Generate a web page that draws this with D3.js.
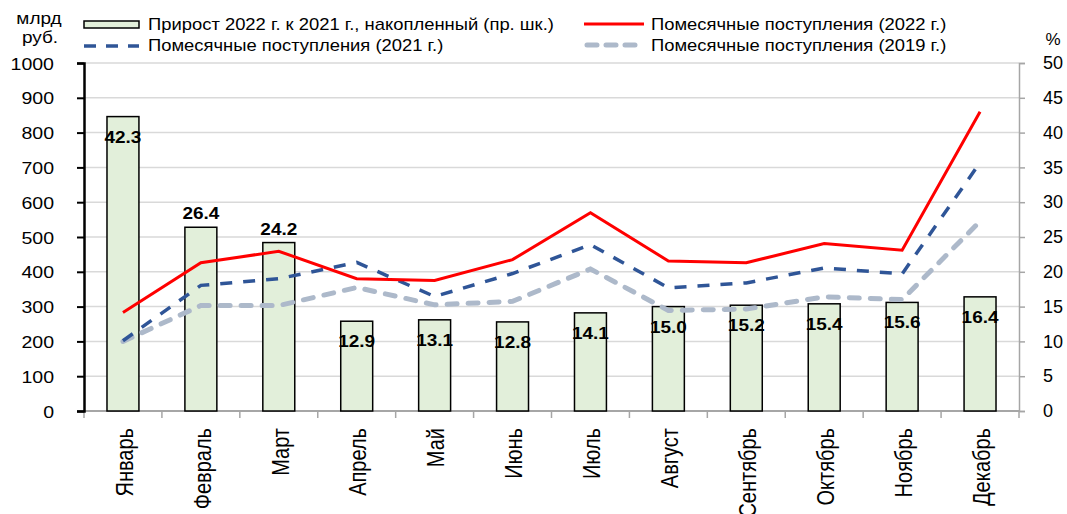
<!DOCTYPE html>
<html>
<head>
<meta charset="utf-8">
<script src="https://cdn.jsdelivr.net/npm/d3@7"></script>
<style>
  body { margin: 0; background: #fff; }
  svg { display: block; }
  text { font-family: "Liberation Sans", Arial, sans-serif; fill: #000; }
</style>
</head>
<body>
<svg id="chart" width="1067" height="514"></svg>
<script>
// ---- DATA ----
const months = ["Январь","Февраль","Март","Апрель","Май","Июнь","Июль","Август","Сентябрь","Октябрь","Ноябрь","Декабрь"];
const growth2022 = [42.3, 26.4, 24.2, 12.9, 13.1, 12.8, 14.1, 15.0, 15.2, 15.4, 15.6, 16.4];
const monthly2022 = [283, 426, 459, 380, 375, 435, 570, 431, 426, 481, 462, 860];
const monthly2021 = [202, 361, 380, 427, 329, 395, 478, 354, 368, 411, 394, 714];
const monthly2019 = [200, 303, 303, 355, 305, 315, 408, 289, 293, 328, 320, 545];
const labelInside = [true, false, false, true, true, true, true, true, true, true, true, true];
const leftTicks = [0,100,200,300,400,500,600,700,800,900,1000];
const rightTicks = [0,5,10,15,20,25,30,35,40,45,50];
const legendLabels = [
  "Прирост 2022 г. к 2021 г., накопленный (пр. шк.)",
  "Помесячные поступления (2022 г.)",
  "Помесячные поступления (2021 г.)",
  "Помесячные поступления (2019 г.)"
];

// ---- LAYOUT ----
const SX = 1.15; // horizontal text stretch
const plot = { left: 84, right: 1019, top: 63, bottom: 411 };
const svg = d3.select("#chart");

const x = d3.scaleBand().domain(months).range([plot.left, plot.right]).padding(0);
const yL = d3.scaleLinear().domain([0, 1000]).range([plot.bottom, plot.top]);
const yR = d3.scaleLinear().domain([0, 50]).range([plot.bottom, plot.top]);
const cx = m => x(m) + x.bandwidth() / 2;

function stretchText(sel, anchorX, anchorY) {
  sel.each(function() {
    const t = d3.select(this);
    const tx = anchorX != null ? anchorX : (+t.attr("x") || 0);
    const ty = anchorY != null ? anchorY : (+t.attr("y") || 0);
    t.attr("x", 0).attr("y", 0).attr("transform", `translate(${tx},${ty}) scale(${SX},1)`);
  });
}

// gridlines
svg.append("g").selectAll("line").data(leftTicks).join("line")
  .attr("x1", plot.left).attr("x2", plot.right)
  .attr("y1", d => yL(d)).attr("y2", d => yL(d))
  .attr("stroke", "#d9d9d9").attr("stroke-width", 1.5);

// bottom axis line + ticks
svg.append("line").attr("x1", plot.left).attr("x2", plot.right)
  .attr("y1", plot.bottom).attr("y2", plot.bottom)
  .attr("stroke", "#a6a6a6").attr("stroke-width", 2);
svg.append("g").selectAll("line").data(months.concat([null])).join("line")
  .attr("x1", d => d ? x(d) : plot.right).attr("x2", d => d ? x(d) : plot.right)
  .attr("y1", plot.bottom).attr("y2", plot.bottom + 7)
  .attr("stroke", "#a6a6a6").attr("stroke-width", 1.5);

// bars
const bw = x.bandwidth() * 0.41;
svg.append("g").selectAll("rect").data(growth2022).join("rect")
  .attr("x", (d, i) => cx(months[i]) - bw / 2)
  .attr("y", d => yR(d))
  .attr("width", bw)
  .attr("height", d => yR(0) - yR(d))
  .attr("fill", "#e2efda")
  .attr("stroke", "#000").attr("stroke-width", 1.5);

// right axis
const rAxis = svg.append("g").attr("transform", `translate(${plot.right},0)`)
  .call(d3.axisRight(yR).tickValues(rightTicks).tickSize(6).tickPadding(18).tickFormat(d3.format("d")));
rAxis.select(".domain").attr("stroke", "#a6a6a6").attr("stroke-width", 1.5);
rAxis.selectAll(".tick line").attr("stroke", "#a6a6a6").attr("stroke-width", 1.5);
rAxis.selectAll(".tick text").attr("font-family", "'Open Sans', sans-serif").attr("font-size", 18).attr("fill", "#000");

// lines
const line = d3.line().x((d, i) => cx(months[i])).y(d => yL(d));
svg.append("path").datum(monthly2019).attr("d", line)
  .attr("fill", "none").attr("stroke", "#adb9ca").attr("stroke-width", 5)
  .attr("stroke-dasharray", "10,11").attr("stroke-linecap", "round");
svg.append("path").datum(monthly2021).attr("d", line)
  .attr("fill", "none").attr("stroke", "#2f5597").attr("stroke-width", 3.5)
  .attr("stroke-dasharray", "12,11");
svg.append("path").datum(monthly2022).attr("d", line)
  .attr("fill", "none").attr("stroke", "#ff0000").attr("stroke-width", 3);

// left axis
const lAxis = svg.append("g").attr("transform", `translate(${plot.left},0)`)
  .call(d3.axisLeft(yL).tickValues(leftTicks).tickSize(7).tickPadding(16).tickFormat(d3.format("d")));
lAxis.select(".domain").attr("stroke", "#000").attr("stroke-width", 2.5);
lAxis.selectAll(".tick line").attr("stroke", "#000").attr("stroke-width", 2);
lAxis.selectAll(".tick text").attr("font-size", 17).attr("font-family", "'Liberation Sans', Arial, sans-serif")
  .attr("fill", "#000").attr("dy", "0.36em");
lAxis.selectAll(".tick text").each(function() {
  const t = d3.select(this);
  const tx = +t.attr("x") - 7;
  t.attr("x", 0).attr("transform", `translate(${tx},0) scale(${SX},1)`);
});

// bar labels
svg.append("g").selectAll("text").data(growth2022).join("text")
  .attr("text-anchor", "middle").attr("font-weight", "bold").attr("font-size", 16.5)
  .attr("dy", "0.36em")
  .text(d => d.toFixed(1))
  .attr("transform", (d, i) => `translate(${cx(months[i])},${yR(d) + (labelInside[i] ? 20 : -14)}) scale(${SX},1)`);

// month labels
svg.append("g").selectAll("text").data(months).join("text")
  .attr("text-anchor", "end").attr("font-size", 20).attr("dy", "0.36em")
  .text(d => d)
  .attr("transform", d => `translate(${cx(d) + 1.5},${plot.bottom + 17}) scale(${SX},1) rotate(-90)`);

// unit labels
const unitL = svg.append("g");
unitL.append("text").attr("text-anchor", "middle").attr("font-size", 16.5).text("млрд")
  .attr("transform", `translate(39,24) scale(${SX},1)`);
unitL.append("text").attr("text-anchor", "middle").attr("font-size", 16.5).text("руб.")
  .attr("transform", `translate(40,43) scale(${SX},1)`);
svg.append("text").attr("x", 1053).attr("y", 45).attr("text-anchor", "middle")
  .attr("font-family", "'Open Sans', sans-serif").attr("font-size", 17).text("%");

// legend
const lg = svg.append("g");
lg.append("rect").attr("x", 84).attr("y", 21).attr("width", 55).attr("height", 7)
  .attr("fill", "#e2efda").attr("stroke", "#000").attr("stroke-width", 1.5);
lg.append("line").attr("x1", 84).attr("x2", 139).attr("y1", 46).attr("y2", 46)
  .attr("stroke", "#2f5597").attr("stroke-width", 3.5).attr("stroke-dasharray", "12,10");
lg.append("line").attr("x1", 584).attr("x2", 644).attr("y1", 24).attr("y2", 24)
  .attr("stroke", "#ff0000").attr("stroke-width", 3);
lg.append("line").attr("x1", 587).attr("x2", 642).attr("y1", 45).attr("y2", 45)
  .attr("stroke", "#adb9ca").attr("stroke-width", 5).attr("stroke-dasharray", "10,9").attr("stroke-linecap", "round");
const legPos = [[148, 30], [651, 30], [148, 51], [651, 51]];
lg.selectAll("text.leg").data(legendLabels).join("text").attr("class", "leg")
  .attr("font-size", 16).text(d => d)
  .attr("transform", (d, i) => `translate(${legPos[i][0]},${legPos[i][1]}) scale(${SX},1)`);
</script>
</body>
</html>
